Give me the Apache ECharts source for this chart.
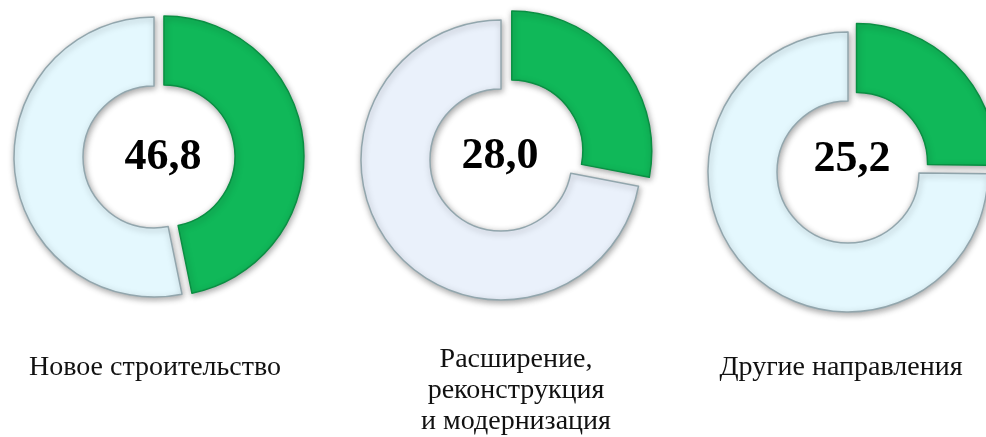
<!DOCTYPE html>
<html>
<head>
<meta charset="utf-8">
<script src="https://cdn.jsdelivr.net/npm/echarts@6/dist/echarts.min.js"></script>
<style>
  html, body { margin: 0; padding: 0; background: #fff; }
  #container { width: 986px; height: 437px; }
</style>
</head>
<body>
<div id="container"></div>
<script>
var dom = document.getElementById("container");
var myChart = echarts.init(dom);
var option;

// data
var categories = ["Новое строительство", "Расширение,\nреконструкция\nи модернизация", "Другие направления"];
var shares = [46.8, 28.0, 25.2];
var restShares = [53.2, 72.0, 74.8];
var valueLabels = ["46,8", "28,0", "25,2"];

// layout for each donut
var centers = [[154, 157], [501, 160], [848, 172]];
var offsets = [10, 14, 12];
var restColors = ["#E4F8FE", "#EAF1FB", "#E4F8FE"];
var numberPos = [[163, 158], [500, 157], [852, 160]];
var labelPos = [[155, 368], [516, 391], [841, 368]];

var series = [];
var graphics = [];

for (var i = 0; i < shares.length; i++) {
    series.push({
        type: "pie",
        center: centers[i],
        radius: [71, 140],
        startAngle: 90,
        clockwise: true,
        selectedMode: "single",
        selectedOffset: offsets[i],
        silent: true,
        animation: false,
        label: { show: false },
        labelLine: { show: false },
        data: [
            {
                value: shares[i],
                name: categories[i],
                selected: true,
                itemStyle: {
                    color: "#10B859",
                    borderColor: "#0A8F43",
                    borderWidth: 1.5,
                    shadowBlur: 6,
                    shadowColor: "rgba(0,0,0,0.35)",
                    shadowOffsetX: 1,
                    shadowOffsetY: 2,
                },
            },
            {
                value: restShares[i],
                name: "rest",
                itemStyle: {
                    color: restColors[i],
                    borderColor: "#92A6AD",
                    borderWidth: 1.5,
                    shadowBlur: 6,
                    shadowColor: "rgba(0,0,0,0.35)",
                    shadowOffsetX: 1,
                    shadowOffsetY: 2,
                },
            },
        ],
    });

    graphics.push({
        type: "text",
        x: numberPos[i][0],
        y: numberPos[i][1],
        style: {
            text: valueLabels[i],
            fill: "#000",
            font: "bold 44px 'Liberation Serif', 'Times New Roman', serif",
            textAlign: "center",
            textVerticalAlign: "middle",
        },
    });

    graphics.push({
        type: "text",
        x: labelPos[i][0],
        y: labelPos[i][1],
        style: {
            text: categories[i],
            fill: "#111",
            font: "28px 'Liberation Serif', 'Times New Roman', serif",
            lineHeight: 31,
            textAlign: "center",
            textVerticalAlign: "middle",
        },
    });
}

option = {
    backgroundColor: "#fff",
    graphic: graphics,
    series: series,
};

if (option && typeof option === "object") {
    myChart.setOption(option);
}
</script>
</body>
</html>
